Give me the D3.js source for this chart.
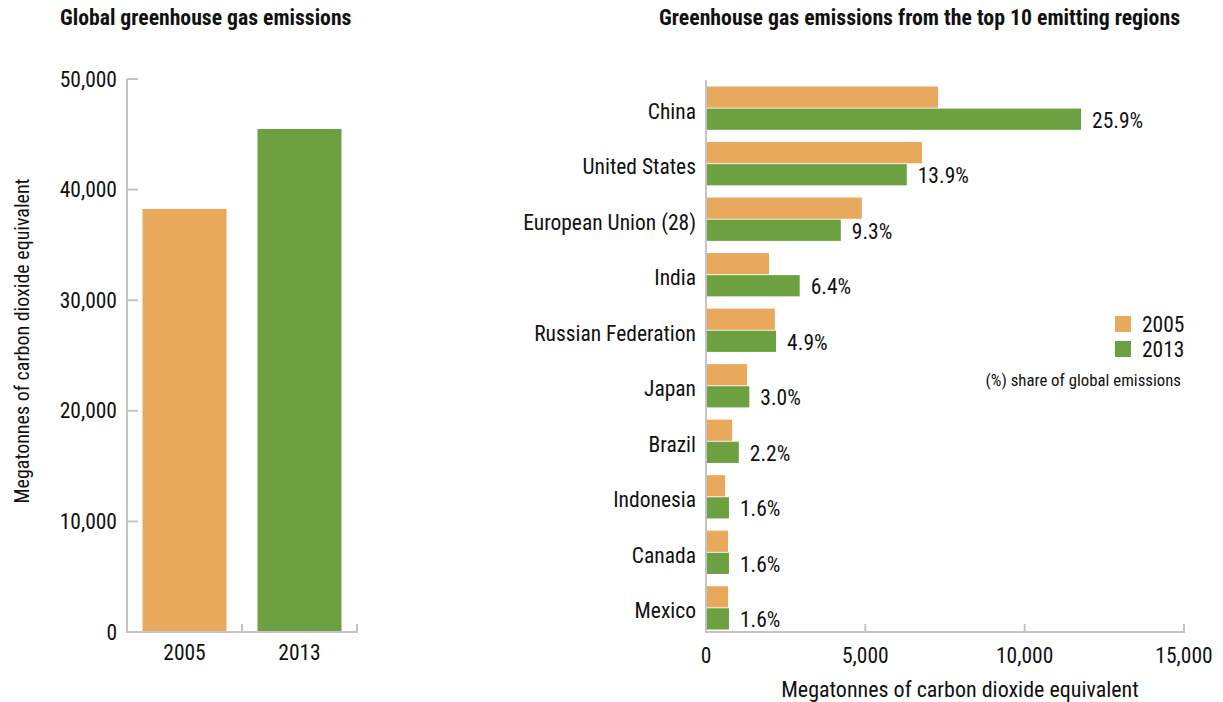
<!DOCTYPE html>
<html><head><meta charset="utf-8">
<script src="https://cdn.jsdelivr.net/npm/d3@7/dist/d3.min.js"></script>
<style>
body{margin:0;background:#fff;}
svg text{font-family:"Roboto Condensed","Roboto",sans-serif;fill:#111;}
</style></head>
<body>
<svg id="c" width="1223" height="702"></svg>
<script>
const years = ["2005", "2013"];
const globalTotals = [38250, 45480];
const globalTicks = [0, 10000, 20000, 30000, 40000, 50000];

const regions = ["China", "United States", "European Union (28)", "India", "Russian Federation", "Japan", "Brazil", "Indonesia", "Canada", "Mexico"];
const values2005 = [7280, 6780, 4890, 1980, 2160, 1290, 820, 600, 690, 690];
const values2013 = [11770, 6300, 4230, 2940, 2200, 1360, 1030, 720, 720, 720];
const shareLabels = ["25.9%", "13.9%", "9.3%", "6.4%", "4.9%", "3.0%", "2.2%", "1.6%", "1.6%", "1.6%"];
const regionTicks = [0, 5000, 10000, 15000];

const colors = {"2005": "#e8a95c", "2013": "#6ca040"};
const axisColor = "#c4c4c4";
const fmt = d3.format(",");
const FS = 21.5;

const svg = d3.select("#c");

// ---------- Left chart ----------
const yL = d3.scaleLinear().domain([0, 50000]).range([632, 79]);
const xL = d3.scaleBand().domain(years).range([127, 357]).padding(0);
const barW = xL.bandwidth() * 0.73;

svg.append("text").attr("x", 60).attr("y", 25).attr("font-size", 21.7).attr("font-weight", "bold").text("Global greenhouse gas emissions");

const gL = svg.append("g");
gL.selectAll("rect").data(years).join("rect")
  .attr("x", d => xL(d) + (xL.bandwidth() - barW) / 2)
  .attr("width", barW)
  .attr("y", (d, i) => yL(globalTotals[i]))
  .attr("height", (d, i) => yL(0) - yL(globalTotals[i]))
  .attr("fill", d => colors[d]);

gL.append("line").attr("x1", 127).attr("x2", 127).attr("y1", yL(50000)).attr("y2", yL(0)).attr("stroke", axisColor).attr("stroke-width", 2);
gL.append("line").attr("x1", 126).attr("x2", 358).attr("y1", yL(0)).attr("y2", yL(0)).attr("stroke", axisColor).attr("stroke-width", 2);
gL.selectAll(".yt").data(globalTicks).join("line")
  .attr("x1", 127).attr("x2", 138).attr("y1", d => yL(d)).attr("y2", d => yL(d))
  .attr("stroke", axisColor).attr("stroke-width", 2);
gL.selectAll(".ytl").data(globalTicks).join("text")
  .attr("x", 117).attr("y", d => yL(d)).attr("dy", "0.35em").attr("text-anchor", "end").attr("font-size", FS)
  .text(d => fmt(d));
gL.selectAll(".xt").data(years).join("line")
  .attr("x1", d => xL(d) + xL.bandwidth()).attr("x2", d => xL(d) + xL.bandwidth())
  .attr("y1", yL(0) - 8).attr("y2", yL(0)).attr("stroke", axisColor).attr("stroke-width", 2);
gL.selectAll(".xtl").data(years).join("text")
  .attr("x", d => xL(d) + xL.bandwidth() / 2).attr("y", 660).attr("text-anchor", "middle").attr("font-size", FS)
  .text(d => d);
svg.append("text").attr("transform", "translate(29,341) rotate(-90)").attr("text-anchor", "middle").attr("font-size", 20)
  .text("Megatonnes of carbon dioxide equivalent");

// ---------- Right chart ----------
const xR = d3.scaleLinear().domain([0, 15000]).range([706, 1184]);
const yR = d3.scaleBand().domain(regions).range([86.5, 629.5]).paddingInner(0.22).paddingOuter(0);
const ySub = d3.scaleBand().domain(years).range([0, yR.bandwidth()]).paddingInner(0.04);

svg.append("text").attr("x", 659).attr("y", 25).attr("font-size", 21.8).attr("font-weight", "bold").text("Greenhouse gas emissions from the top 10 emitting regions");

const gR = svg.append("g");
const rows = regions.map((r, i) => ({r, i, v: {"2005": values2005[i], "2013": values2013[i]}}));
const grp = gR.selectAll(".row").data(rows).join("g").attr("transform", d => `translate(0,${yR(d.r)})`);
grp.selectAll("rect").data(d => years.map(y => ({y, v: d.v[y]}))).join("rect")
  .attr("x", xR(0)).attr("y", d => ySub(d.y)).attr("height", ySub.bandwidth())
  .attr("width", d => xR(d.v) - xR(0)).attr("fill", d => colors[d.y]);
grp.append("text").attr("x", d => xR(d.v["2013"]) + 11).attr("y", ySub("2013") + ySub.bandwidth() / 2 + 1)
  .attr("dy", "0.35em").attr("font-size", FS).text(d => shareLabels[d.i]);
grp.append("text").attr("x", 696).attr("y", yR.bandwidth() / 2 + 3).attr("dy", "0.35em")
  .attr("text-anchor", "end").attr("font-size", FS).text(d => d.r);

gR.append("line").attr("x1", 706).attr("x2", 706).attr("y1", 80).attr("y2", 632).attr("stroke", axisColor).attr("stroke-width", 2);
gR.append("line").attr("x1", 705).attr("x2", 1185).attr("y1", 632).attr("y2", 632).attr("stroke", axisColor).attr("stroke-width", 2);
gR.selectAll(".xt").data(regionTicks.slice(1)).join("line")
  .attr("x1", d => xR(d)).attr("x2", d => xR(d)).attr("y1", 624).attr("y2", 632)
  .attr("stroke", axisColor).attr("stroke-width", 2);
gR.selectAll(".xtl").data(regionTicks).join("text")
  .attr("x", d => xR(d)).attr("y", 663).attr("text-anchor", "middle").attr("font-size", FS).text(d => fmt(d));
svg.append("text").attr("x", 960).attr("y", 697).attr("text-anchor", "middle").attr("font-size", 22)
  .text("Megatonnes of carbon dioxide equivalent");

// legend
const lg = svg.append("g");
years.forEach((y, i) => {
  lg.append("rect").attr("x", 1115).attr("y", 316 + i * 25).attr("width", 16).attr("height", 16).attr("fill", colors[y]);
  lg.append("text").attr("x", 1142).attr("y", 324 + i * 25).attr("dy", "0.35em").attr("font-size", FS).text(y);
});
lg.append("text").attr("x", 1181).attr("y", 380).attr("dy", "0.35em").attr("text-anchor", "end").attr("font-size", 16.8)
  .text("(%) share of global emissions");
</script>
</body></html>
